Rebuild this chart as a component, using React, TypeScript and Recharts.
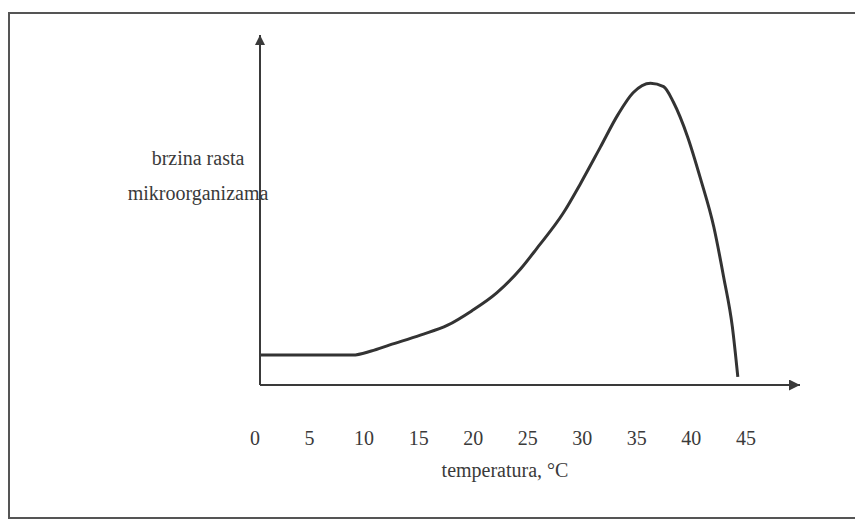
import { LineChart, Line, XAxis, YAxis } from 'recharts';

// temperature (°C) and growth rate (arbitrary units)
const temps = [0, 8.5, 10.2, 11.9, 14.7, 17.2, 19.4, 21.7, 23.9, 25.4, 27.8, 29.4, 31.2, 32.8, 34.2, 35.8, 37.0, 37.9, 39.2, 40.4, 41.6, 42.5, 43.3, 43.8];
const rates = [8.8, 8.8, 10.0, 11.8, 14.7, 17.6, 21.8, 27.1, 34.2, 40.3, 50.6, 59.4, 70.0, 79.5, 86.0, 88.8, 87.8, 83.2, 73.0, 60.5, 46.5, 31.8, 17.1, 2.4];
const tickValues = [0, 5, 10, 15, 20, 25, 30, 35, 40, 45];

const data = temps.map((t, i) => ({ t, rate: rates[i] }));

const FONT = '"Liberation Serif", "Times New Roman", serif';
const INK = '#3a3a3a';

const Tick = ({ x, y, payload }: { x: number; y: number; payload: { value: number } }) => (
  <text x={x - 5} y={y + 53} textAnchor="middle" dominantBaseline="central" style={{ fontFamily: FONT }} fontSize={20} fill={INK}>
    {payload.value}
  </text>
);

export default function App() {
  return (
    <div style={{ position: 'relative', width: 855, height: 514, overflow: 'hidden' }}>
      {/* scanned frame: left, top and bottom edges, running off to the right */}
      <div
        style={{
          position: 'absolute',
          left: 0,
          top: 4,
          width: 900,
          height: 503,
          border: '2px solid #555',
        }}
      />
      <div style={{ position: 'absolute', left: 0, top: 0 }}>
        <LineChart width={855} height={514} data={data} margin={{ top: 27, right: 63, left: 192, bottom: 77 }}>
          <defs>
            <marker id="arrowX" viewBox="0 0 10 10" refX="10" refY="5" markerUnits="userSpaceOnUse" markerWidth="18" markerHeight="11" orient="auto">
              <path d="M0,0 L10,5 L0,10 z" fill={INK} />
            </marker>
            <marker id="arrowY" viewBox="0 0 10 10" refX="10" refY="5" markerUnits="userSpaceOnUse" markerWidth="20" markerHeight="10" orient="auto-start-reverse">
              <path d="M0,0 L10,5 L0,10 z" fill={INK} />
            </marker>
          </defs>
          <XAxis
            type="number"
            dataKey="t"
            domain={[0, 49.5]}
            ticks={tickValues}
            allowDataOverflow
            height={60}
            tickSize={0}
            tickMargin={0}
            tickLine={false}
            tick={Tick}
            axisLine={{ stroke: INK, strokeWidth: 2, markerEnd: 'url(#arrowX)' }}
            label={({ viewBox }: { viewBox: { x: number; y: number } }) => (
              <text x={viewBox.x + 245} y={viewBox.y + 85} textAnchor="middle" dominantBaseline="central" style={{ fontFamily: FONT }} fontSize={20} fill={INK}>
                temperatura, °C
              </text>
            )}
          />
          <YAxis
            type="number"
            domain={[0, 103]}
            width={60}
            tick={false}
            tickLine={false}
            axisLine={{ stroke: INK, strokeWidth: 2, markerStart: 'url(#arrowY)' }}
            label={({ viewBox }: { viewBox: { x: number; y: number } }) => (
              <text textAnchor="middle" style={{ fontFamily: FONT }} fontSize={20} fill={INK}>
                <tspan x={190} y={viewBox.y + 123} dominantBaseline="central">brzina rasta</tspan>
                <tspan x={190} y={viewBox.y + 158} dominantBaseline="central">mikroorganizama</tspan>
              </text>
            )}
          />
          <Line type="monotone" dataKey="rate" stroke="#333" strokeWidth={3} dot={false} isAnimationActive={false} />
        </LineChart>
      </div>
    </div>
  );
}
